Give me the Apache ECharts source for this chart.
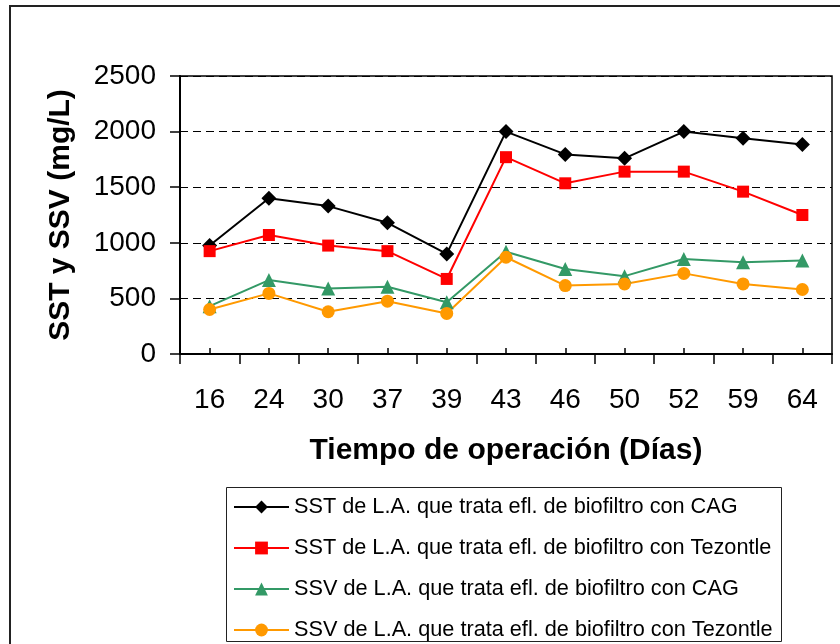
<!DOCTYPE html>
<html>
<head>
<meta charset="utf-8">
<script src="https://cdn.jsdelivr.net/npm/echarts@6/dist/echarts.min.js"></script>
<style>
  html, body { margin: 0; padding: 0; background: #fff; }
  #chart { width: 840px; height: 644px; }
</style>
</head>
<body>
<div id="chart"></div>
<script>
// Tiempo de operación (días)
const days = ['16', '24', '30', '37', '39', '43', '46', '50', '52', '59', '64']

// SST / SSV en mg/L
const sstCag = [975, 1400, 1330, 1180, 900, 2000, 1795, 1760, 2000, 1940, 1885]
const sstTezontle = [925, 1070, 975, 925, 675, 1770, 1535, 1640, 1640, 1460, 1250]
const ssvCag = [430, 665, 590, 605, 465, 920, 765, 700, 855, 825, 840]
const ssvTezontle = [400, 545, 380, 475, 365, 870, 615, 630, 725, 630, 580]

const yTicks = [0, 500, 1000, 1500, 2000, 2500]

const seriesNames = [
  'SST de L.A. que trata efl. de biofiltro con CAG',
  'SST de L.A. que trata efl. de biofiltro con Tezontle',
  'SSV de L.A. que trata efl. de biofiltro con CAG',
  'SSV de L.A. que trata efl. de biofiltro con Tezontle'
]

const font = 'Arial, "Liberation Sans", sans-serif'

function lineSeries(name, data, color, symbol, size) {
  return {
    name: name,
    type: 'line',
    xAxisIndex: 0,
    data: data,
    symbol: symbol,
    symbolSize: size,
    lineStyle: { color: color, width: 2 },
    itemStyle: { color: color },
    animation: false
  }
}

const chart = echarts.init(document.getElementById('chart'))

chart.setOption({
  backgroundColor: '#fff',
  textStyle: { fontFamily: font },
  graphic: [
    {
      type: 'rect',
      shape: { x: 10, y: 6, width: 860, height: 700 },
      style: { fill: 'none', stroke: '#222', lineWidth: 2 },
      silent: true
    },
    {
      // marco de la leyenda
      type: 'rect',
      z: 10,
      shape: { x: 226.5, y: 487.5, width: 555, height: 154 },
      style: { fill: 'none', stroke: '#222', lineWidth: 1 },
      silent: true
    }
  ],
  grid: {
    left: 180,
    top: 76,
    right: 8,
    bottom: 290,
    show: true,
    borderColor: '#000',
    borderWidth: 1.5
  },
  legend: {
    orient: 'vertical',
    left: 226,
    top: 486,
    padding: [10, 9, 0, 7],
    itemWidth: 55,
    itemHeight: 16,
    itemGap: 19,
    borderWidth: 0,
    textStyle: { fontSize: 21.7, color: '#000', fontFamily: font, lineHeight: 21 },
    data: seriesNames
  },
  xAxis: [
    {
      type: 'category',
      data: days,
      boundaryGap: true,
      name: 'Tiempo de operación (Días)',
      nameLocation: 'middle',
      nameGap: 82,
      nameTextStyle: { fontSize: 30, fontWeight: 'bold', color: '#000', fontFamily: font },
      axisLine: { lineStyle: { color: '#000', width: 2 } },
      axisTick: { show: true, inside: false, length: 10, lineStyle: { color: '#000', width: 1.5 } },
      axisLabel: { fontSize: 28, color: '#000', margin: 32, fontFamily: font },
      splitLine: { show: false }
    },
    {
      type: 'category',
      data: days,
      position: 'bottom',
      boundaryGap: true,
      axisLine: { show: false },
      axisTick: { show: true, inside: true, alignWithLabel: true, length: 6, lineStyle: { color: '#000', width: 1.5 } },
      axisLabel: { show: false },
      splitLine: { show: false }
    }
  ],
  yAxis: {
    type: 'value',
    min: yTicks[0],
    max: yTicks[yTicks.length - 1],
    interval: 500,
    name: 'SST y SSV (mg/L)',
    nameLocation: 'middle',
    nameGap: 104,
    nameTextStyle: { fontSize: 30, fontWeight: 'bold', color: '#000', fontFamily: font },
    axisLine: { show: true, lineStyle: { color: '#000', width: 2 } },
    axisTick: { show: true, inside: false, length: 10, lineStyle: { color: '#000', width: 1.5 } },
    axisLabel: { fontSize: 28, color: '#000', margin: 24, fontFamily: font, formatter: v => String(v) },
    splitLine: { show: true, lineStyle: { color: '#000', width: 1, type: [8, 5] } }
  },
  series: [
    lineSeries(seriesNames[0], sstCag, '#000000', 'diamond', 15),
    lineSeries(seriesNames[1], sstTezontle, '#FF0000', 'rect', 12),
    lineSeries(seriesNames[2], ssvCag, '#339966', 'triangle', 14),
    lineSeries(seriesNames[3], ssvTezontle, '#FF9900', 'circle', 13)
  ]
})
</script>
</body>
</html>
